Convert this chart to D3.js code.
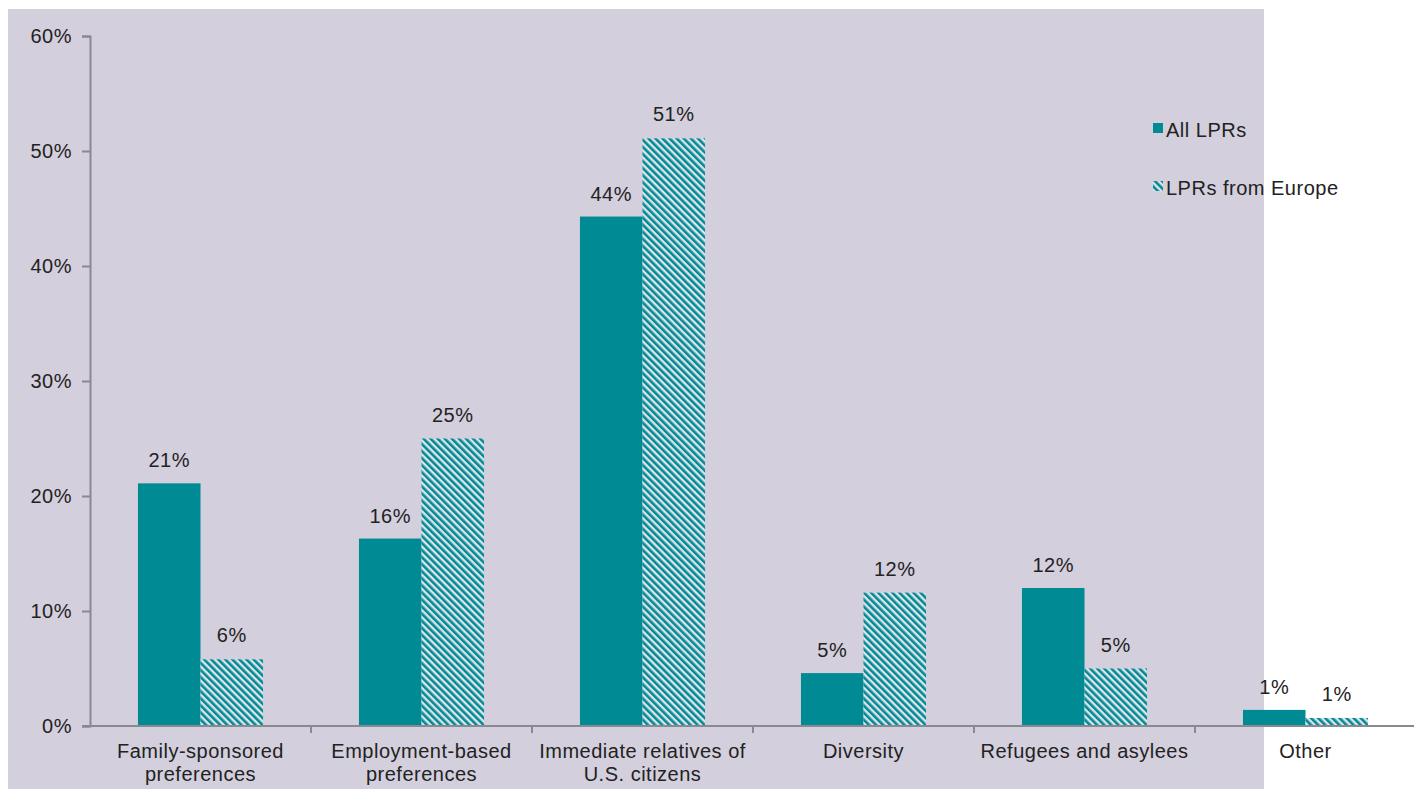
<!DOCTYPE html>
<html>
<head>
<meta charset="utf-8">
<script src="https://cdn.jsdelivr.net/npm/d3@7"></script>
<style>
html,body{margin:0;padding:0;background:#fff;}
svg{display:block;font-family:"Liberation Sans",Arial,sans-serif;}
</style>
</head>
<body>
<svg id="chart" width="1414" height="789"></svg>
<script>
const categories = [
  ["Family-sponsored","preferences"],
  ["Employment-based","preferences"],
  ["Immediate relatives of","U.S. citizens"],
  ["Diversity"],
  ["Refugees and asylees"],
  ["Other"]
];
const seriesNames = ["All LPRs", "LPRs from Europe"];
const allLPRs = [21.1, 16.3, 44.3, 4.6, 12.0, 1.4];
const europeLPRs = [5.8, 25.0, 51.1, 11.6, 5.0, 0.7];
const allLabels = ["21%", "16%", "44%", "5%", "12%", "1%"];
const europeLabels = ["6%", "25%", "51%", "12%", "5%", "1%"];
const yTicks = [0, 10, 20, 30, 40, 50, 60];

const svg = d3.select("#chart");
const teal = "#008a94";
const bg = "#d3cfdc";
const axisColor = "#8a8890";
const textColor = "#222";
const fontSize = 20;
const ls = "0.5px";

// background panel
svg.append("rect").attr("x", 8).attr("y", 9).attr("width", 1256).attr("height", 780).attr("fill", bg);

// hatch pattern
const defs = svg.append("defs");
const pat = defs.append("pattern")
  .attr("id", "hatch").attr("patternUnits", "userSpaceOnUse")
  .attr("width", 5).attr("height", 5)
  .attr("patternTransform", "rotate(-45)");
pat.append("rect").attr("width", 5).attr("height", 5).attr("fill", "#dfe3ea");
pat.append("rect").attr("x", 0).attr("width", 2.6).attr("height", 5).attr("fill", teal);

const keys = categories.map((c, i) => i);
const x = d3.scaleBand().domain(keys).range([90, 1416]).padding(0);
const y = d3.scaleLinear().domain([0, 60]).range([726, 36]);
const barW = x.bandwidth() * 0.283;

// y axis
const yAxis = d3.axisLeft(y).tickValues(yTicks).tickFormat(d => d + "%").tickSizeOuter(0).tickSize(8).tickPadding(10);
const gy = svg.append("g").attr("transform", "translate(90,0)").call(yAxis);
gy.select(".domain").attr("stroke", axisColor).attr("stroke-width", 2);
gy.selectAll(".tick line").attr("stroke", axisColor).attr("stroke-width", 2);
gy.selectAll(".tick text").attr("fill", textColor).attr("font-size", fontSize)
  .attr("font-family", "Liberation Sans, Arial, sans-serif").attr("letter-spacing", ls);

// bars
const groups = svg.append("g").selectAll("g").data(keys).join("g")
  .attr("transform", d => `translate(${x(d) + x.bandwidth() / 2},0)`);

groups.append("rect")
  .attr("x", -barW).attr("width", barW)
  .attr("y", d => y(allLPRs[d])).attr("height", d => y(0) - y(allLPRs[d]))
  .attr("fill", teal);
groups.append("rect")
  .attr("x", 0).attr("width", barW)
  .attr("y", d => y(europeLPRs[d])).attr("height", d => y(0) - y(europeLPRs[d]))
  .attr("fill", "url(#hatch)");

groups.append("text")
  .attr("x", -barW / 2).attr("y", d => y(allLPRs[d]) - 16)
  .attr("text-anchor", "middle").attr("font-size", fontSize).attr("fill", textColor).attr("letter-spacing", ls)
  .text(d => allLabels[d]);
groups.append("text")
  .attr("x", barW / 2).attr("y", d => y(europeLPRs[d]) - 17)
  .attr("text-anchor", "middle").attr("font-size", fontSize).attr("fill", textColor).attr("letter-spacing", ls)
  .text(d => europeLabels[d]);

// x axis
const gx = svg.append("g").attr("transform", `translate(0,${y(0)})`);
gx.append("line").attr("x1", 82).attr("x2", 1416).attr("y1", 0).attr("y2", 0)
  .attr("stroke", axisColor).attr("stroke-width", 2);
const boundaries = keys.map(k => x(k)).concat([x.range()[1]]).slice(1);
gx.selectAll("line.tick").data(boundaries).join("line").attr("class", "tick")
  .attr("x1", d => d).attr("x2", d => d).attr("y1", 0).attr("y2", 7)
  .attr("stroke", axisColor).attr("stroke-width", 2);
const catText = gx.selectAll("text.cat").data(keys).join("text").attr("class", "cat")
  .attr("text-anchor", "middle").attr("font-size", fontSize).attr("fill", textColor).attr("letter-spacing", ls)
  .attr("transform", d => `translate(${x(d) + x.bandwidth() / 2},0)`);
catText.selectAll("tspan").data(d => categories[d]).join("tspan")
  .attr("x", 0).attr("y", (d, i) => 32 + i * 23).text(d => d);

// legend
const legend = svg.append("g").attr("transform", "translate(1153,130)");
const li = legend.selectAll("g").data(seriesNames).join("g")
  .attr("transform", (d, i) => `translate(0,${i * 58})`);
li.append("rect").attr("x", 0).attr("y", -7).attr("width", 10).attr("height", 10)
  .attr("fill", (d, i) => i === 0 ? teal : "url(#hatch)");
li.append("text").attr("x", 13).attr("y", 7).attr("font-size", fontSize).attr("fill", textColor).attr("letter-spacing", ls)
  .text(d => d);
</script>
</body>
</html>
